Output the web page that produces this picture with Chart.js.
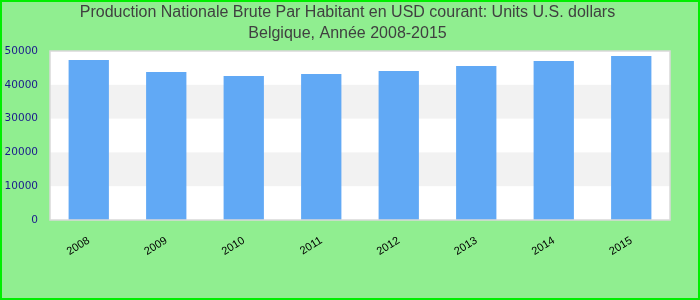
<!DOCTYPE html>
<html>
<head>
<meta charset="utf-8">
<script src="https://cdn.jsdelivr.net/npm/chart.js@4"></script>
<style>
  html, body { margin: 0; padding: 0; background: #90ee90; }
  #wrap { width: 700px; height: 300px; position: relative; }
</style>
</head>
<body>
<div id="wrap"><canvas id="chart"></canvas></div>
<script>
// GNI per capita, Belgium 2008-2015
const YEARS = ['2008', '2009', '2010', '2011', '2012', '2013', '2014', '2015'];
const GNI = [47340, 43790, 42600, 43200, 44080, 45560, 47040, 48520];
const TITLE = [
  'Production Nationale Brute Par Habitant en USD courant: Units U.S. dollars',
  'Belgique, Année 2008-2015'
];

const BG = '#90ee90';
const FRAME = '#00ee00';
const BAR = '#61a9f5';

// background, outer frame, title and alternating horizontal bands
const decor = {
  id: 'decor',
  beforeDraw(chart) {
    const { ctx, chartArea: a, scales: { y } } = chart;
    ctx.save();
    ctx.fillStyle = BG;
    ctx.fillRect(0, 0, chart.width, chart.height);
    ctx.fillStyle = '#ffffff';
    ctx.fillRect(a.left, a.top, a.right - a.left, a.bottom - a.top);
    const ticks = y.ticks;
    for (let i = 0; i < ticks.length - 1; i++) {
      if (i % 2 === 1) {
        const y0 = y.getPixelForValue(ticks[i].value);
        const y1 = y.getPixelForValue(ticks[i + 1].value);
        ctx.fillStyle = '#f2f2f2';
        ctx.fillRect(a.left, y1, a.right - a.left, y0 - y1);
      }
    }
    ctx.restore();
  },
  afterDraw(chart) {
    const { ctx, chartArea: a } = chart;
    ctx.save();
    ctx.strokeStyle = '#d9d9d9';
    ctx.lineWidth = 1.5;
    ctx.strokeRect(a.left, a.top, a.right - a.left, a.bottom - a.top);
    ctx.strokeStyle = FRAME;
    ctx.lineWidth = 2;
    ctx.strokeRect(1, 1, chart.width - 2, chart.height - 2);
    // title, centred slightly left of the canvas middle like the reference
    ctx.fillStyle = '#404040';
    ctx.font = "16px 'Liberation Sans', Arial, sans-serif";
    ctx.textAlign = 'center';
    ctx.textBaseline = 'middle';
    TITLE.forEach((line, i) => ctx.fillText(line, 347.5, 13 + i * 21));
    ctx.restore();
  }
};

new Chart(document.getElementById('chart'), {
  type: 'bar',
  data: {
    labels: YEARS,
    datasets: [{
      data: GNI,
      backgroundColor: BAR,
      borderWidth: 0,
      categoryPercentage: 1,
      barPercentage: 0.52,
    }],
  },
  options: {
    responsive: true,
    maintainAspectRatio: false,
    animation: false,
    layout: { padding: { top: 51, right: 30, bottom: 0, left: 0 } },
    plugins: {
      legend: { display: false },
      tooltip: { enabled: false },
      title: { display: false },
    },
    scales: {
      x: {
        grid: { display: false, drawTicks: false },
        border: { display: false },
        ticks: {
          color: '#000000',
          font: { family: "'Liberation Sans', Arial, sans-serif", size: 11 },
          minRotation: 32,
          maxRotation: 32,
          padding: 14,
        },
        afterFit(s) { s.height = 80; },
      },
      y: {
        min: 0,
        max: 50000,
        grid: { display: false, drawTicks: false },
        border: { display: false },
        ticks: {
          stepSize: 10000,
          color: '#1a1a8c',
          font: { family: "'DejaVu Sans', sans-serif", size: 10.5 },
          padding: 12,
          callback: v => String(v),
        },
        afterFit(s) { s.width = 50; },
      },
    },
  },
  plugins: [decor],
});
</script>
</body>
</html>
